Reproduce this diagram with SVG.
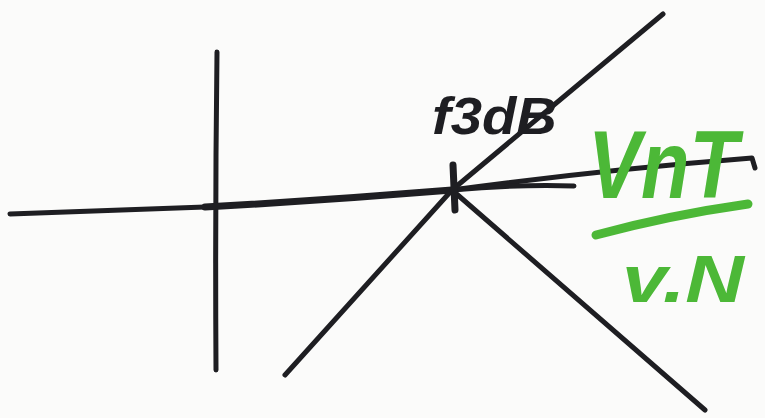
<svg xmlns="http://www.w3.org/2000/svg" width="765" height="418" viewBox="0 0 765 418">
<style>
.ink{fill:none;stroke:#1e1e22;stroke-width:5;stroke-linecap:round;stroke-linejoin:round}
.thick{stroke-width:7}
.g{fill:none;stroke:#4cb837;stroke-width:9;stroke-linecap:round;stroke-linejoin:round}
.lbl{font-family:"Liberation Sans",sans-serif;font-weight:bold;font-style:italic}
</style>
<rect width="765" height="418" fill="#fbfbfa"/>
<g id="connectors">
<path class="ink" d="M217,52 Q215,210 216,370"/>
<path class="ink" d="M10,214 L205,207"/>
<path class="ink thick" d="M205,207 Q330,200 452,190"/>
<path class="ink" d="M452,190 Q600,170 752,158 L755,168"/>
<path class="ink" d="M452,190 Q520,184 574,186"/>
<path class="ink" d="M285,375 L452,190 L663,14"/>
<path class="ink" d="M452,190 L705,410"/>
<path class="ink thick" d="M453,165 L455,210"/>
</g>
<g id="label-f3dB">
<text class="lbl" x="432" y="134" font-size="52" fill="#1e1e22" textLength="125" lengthAdjust="spacingAndGlyphs">f3dB</text>
</g>
<g id="label-green">
<text class="lbl" x="588" y="198" font-size="96" fill="#4cb837" textLength="150" lengthAdjust="spacingAndGlyphs">VnT</text>
<path class="g" d="M596,235 Q670,215 748,204"/>
<text class="lbl" x="622" y="302" font-size="66" fill="#4cb837" textLength="122" lengthAdjust="spacingAndGlyphs">v.N</text>
</g>
</svg>
